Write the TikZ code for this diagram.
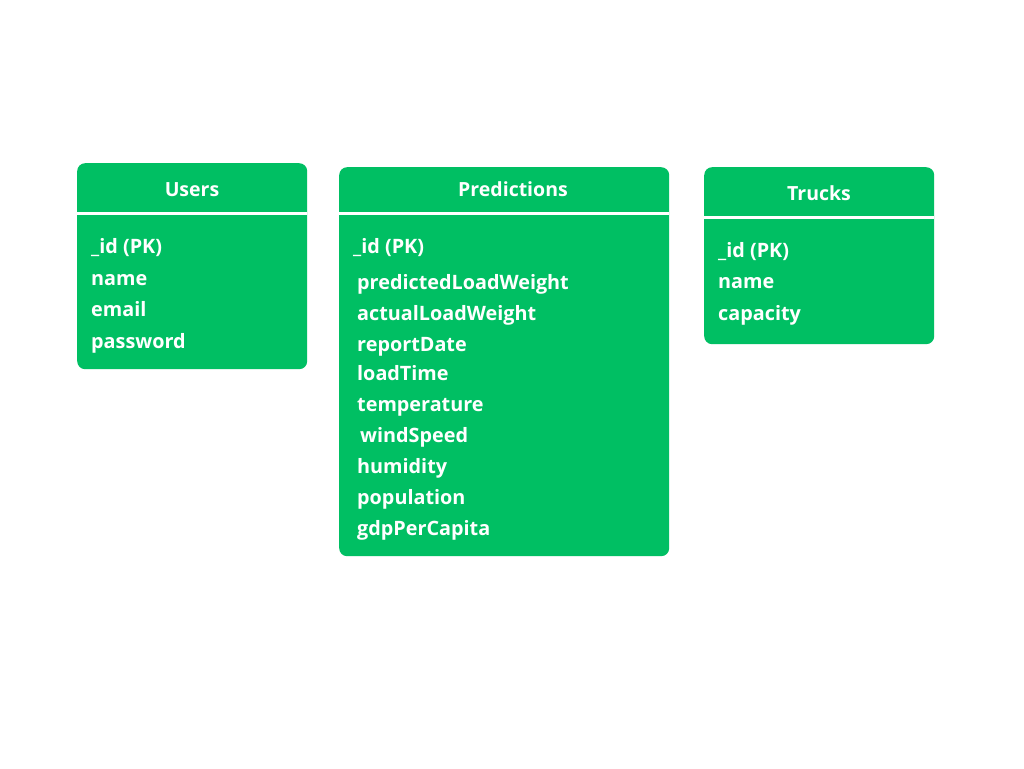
\documentclass[tikz,border=0pt]{standalone}
\usepackage{fontspec}
\setmainfont{Open Sans}
\definecolor{tgreen}{HTML}{00BF63}
\begin{document}
\begin{tikzpicture}[x=1pt,y=-1pt,
  tbox/.style={fill=tgreen,draw=none,rounded corners=8pt,inner sep=0pt},
  sep/.style={draw=white,line width=3pt},
  ttl/.style={text=white,font=\bfseries\fontsize{19.5}{22}\selectfont,inner sep=0pt,anchor=base},
  fld/.style={text=white,font=\bfseries\fontsize{19.8}{22}\selectfont,inner sep=0pt,anchor=base west}]
\useasboundingbox[fill=white] (0,0) rectangle (1024,768);
% Users
\node[tbox,minimum width=230pt,minimum height=206pt,anchor=north west] (users) at (77,163) {};
\coordinate (u1) at (77,213.5); \coordinate (u2) at (307,213.5);
\draw[sep] (u1) -- (u2);
\node[ttl] (ut) at (192,196) {Users};
\node[fld] (uf1) at (91,253) {\_id (PK)};
\node[fld] (uf2) at (91,285) {name};
\node[fld] (uf3) at (91,316) {email};
\node[fld] (uf4) at (91,348) {password};
% Predictions
\node[tbox,minimum width=330pt,minimum height=389pt,anchor=north west] (pred) at (339,167) {};
\coordinate (p1) at (339,213.5); \coordinate (p2) at (669,213.5);
\draw[sep] (p1) -- (p2);
\node[ttl] (pt) at (513,196) {Predictions};
\node[fld] (pf1) at (353,253) {\_id (PK)};
\node[fld] (pf2) at (357,289) {predictedLoadWeight};
\node[fld] (pf3) at (357,320) {actualLoadWeight};
\node[fld] (pf4) at (357,351) {reportDate};
\node[fld] (pf5) at (357,380) {loadTime};
\node[fld] (pf6) at (357,411) {temperature};
\node[fld] (pf7) at (360,442) {windSpeed};
\node[fld] (pf8) at (357,473) {humidity};
\node[fld] (pf9) at (357,504) {population};
\node[fld] (pf10) at (357,535) {gdpPerCapita};
% Trucks
\node[tbox,minimum width=230pt,minimum height=177pt,anchor=north west] (trucks) at (704,167) {};
\coordinate (t1) at (704,217); \coordinate (t2) at (934,217);
\draw[sep] (t1) -- (t2);
\node[ttl] (tt) at (819,200) {Trucks};
\node[fld] (tf1) at (718,257) {\_id (PK)};
\node[fld] (tf2) at (718,288) {name};
\node[fld] (tf3) at (718,320) {capacity};
\end{tikzpicture}
\end{document}
